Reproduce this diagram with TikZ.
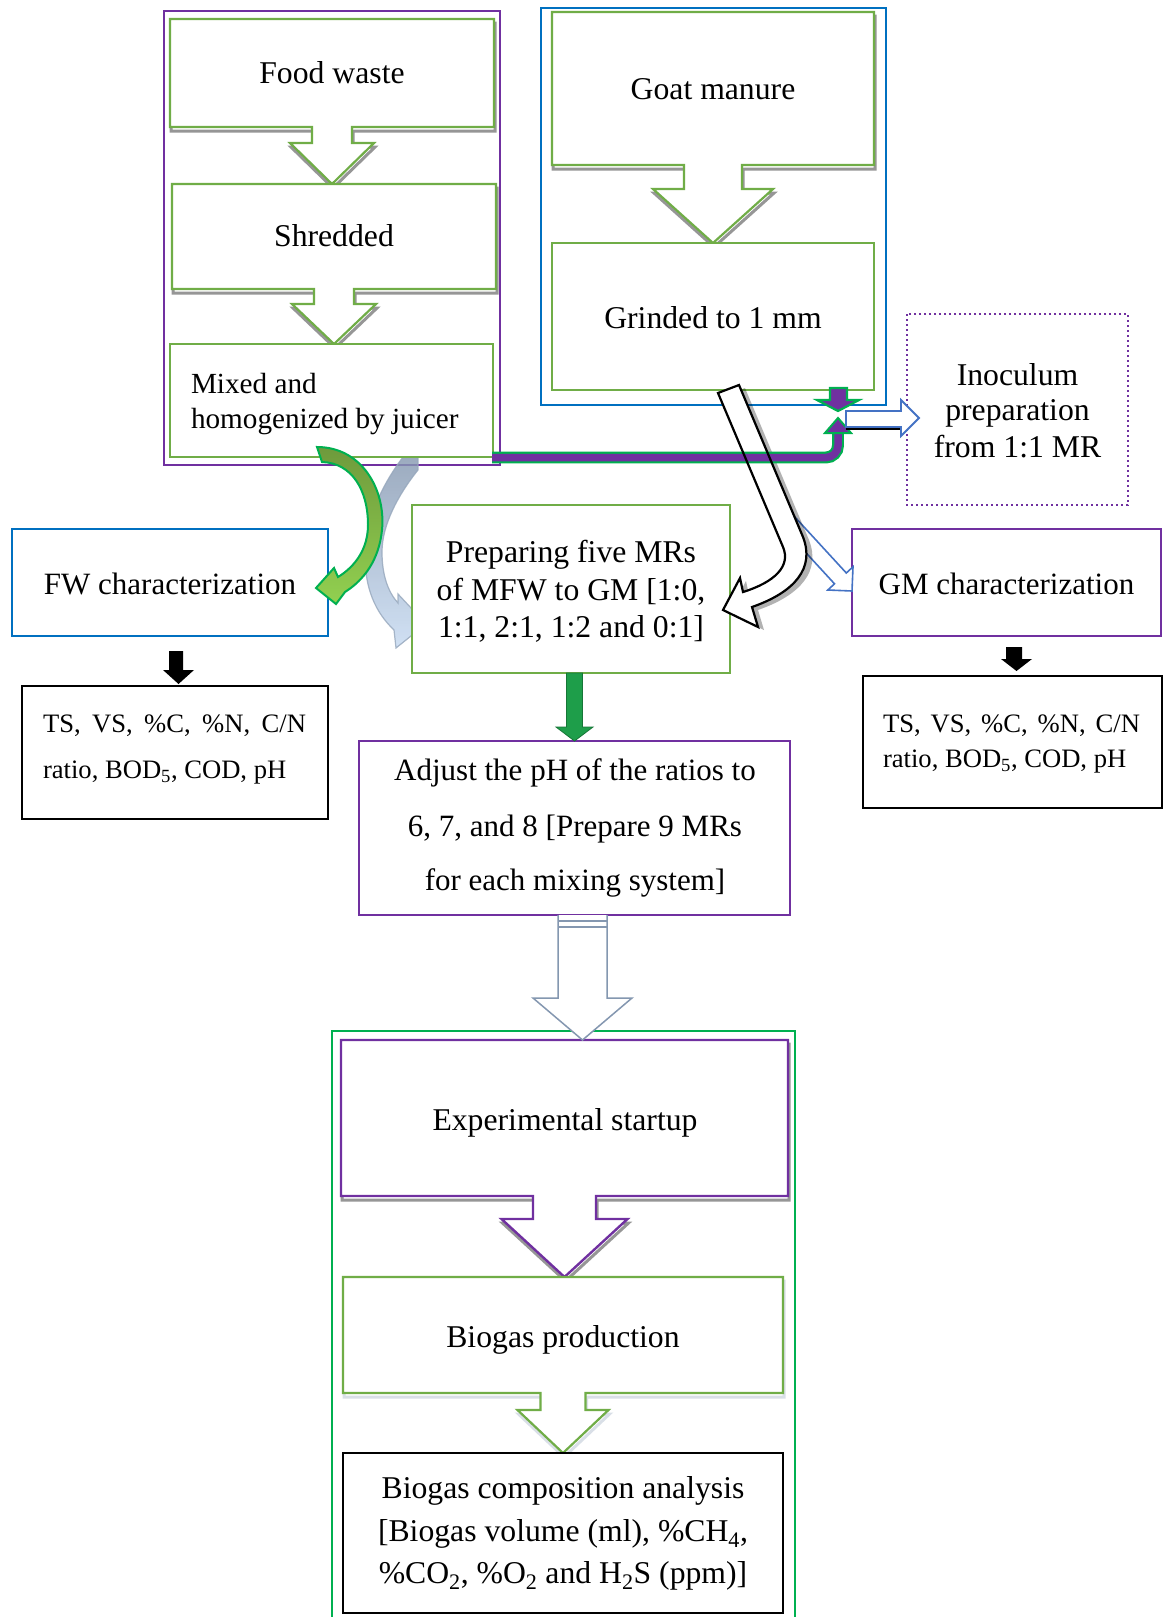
\documentclass[tikz,border=0pt]{standalone}
\usepackage{fontspec}
\setmainfont{Liberation Serif}
\usetikzlibrary{calc}
\definecolor{gbox}{HTML}{70AD47}
\definecolor{pbox}{HTML}{7030A0}
\definecolor{bbox}{HTML}{0070C0}
\definecolor{bgreen}{HTML}{00B050}
\definecolor{ablue}{HTML}{4472C4}
\definecolor{gblue}{HTML}{8497B0}
\definecolor{lblue}{HTML}{C5D9F1}
\definecolor{dolive}{HTML}{6E9A3C}
\definecolor{lgreen}{HTML}{92D050}
\definecolor{dgreen}{HTML}{1E9E4A}

\newcommand\dcallout[6]{%
  \draw[#1] (#2.north west) -- (#2.north east) -- (#2.south east)
    -- ($(#2.south)+(#3,0)$) -- ($(#2.south)+(#3,#5)$) -- ($(#2.south)+(#4,#5)$)
    -- (#6) -- ($(#2.south)+(-#4,#5)$) -- ($(#2.south)+(-#3,#5)$)
    -- ($(#2.south)+(-#3,0)$) -- (#2.south west) -- cycle;}

\begin{document}
\begin{tikzpicture}[x=1pt,y=-1pt,
  every node/.style={inner sep=0pt, outer sep=0pt},
  sz/.style 2 args={minimum width=#1pt, minimum height=#2pt},
  gb/.style={draw=gbox, line width=2.2pt, fill=white},
  pb/.style={draw=pbox, line width=2.4pt, fill=white},
  bb/.style={draw=bbox, line width=2.2pt, fill=white},
  kb/.style={draw=black, line width=2.6pt, fill=white},
  cshadow/.style={draw=black!75, line width=3pt, opacity=0.55},
  lshadow/.style={draw=gblue!60, line width=3pt, opacity=0.5},
  tx/.style={font=\fontsize{31.7}{36}\selectfont, anchor=base},
  txo/.style={font=\fontsize{31}{36}\selectfont, anchor=base},
  txm/.style={font=\fontsize{29.2}{34}\selectfont, anchor=base west},
  txs/.style={font=\fontsize{26.6}{32}\selectfont, anchor=base west},
]
\useasboundingbox[fill=white] (0,0) rectangle (1163,1617);

% group frames
\node[sz={336}{454}, draw=pbox, line width=2.4pt] (fgrp) at (332,238) {};
\node[sz={345}{397}, draw=bbox, line width=2.4pt] (rgrp) at (713.5,206.5) {};
\node[sz={463}{609}, draw=bgreen, line width=2.4pt] (bgrp) at (563.5,1335.5) {};

% box nodes (geometry)
\node[sz={324}{108}] (fw) at (332,73) {};
\node[sz={324}{105}] (sh) at (334,236.5) {};
\node[sz={323}{113}] (mx) at (331.5,400.5) {};
\node[sz={322}{153}] (gm) at (713,88.5) {};
\node[sz={322}{147}] (gr) at (713,316.5) {};
\node[sz={221}{191}] (ino) at (1017.5,409.5) {};
\node[sz={316}{107}] (fwc) at (170,582.5) {};
\node[sz={318}{168}] (prep) at (571,589) {};
\node[sz={309}{107}] (gmc) at (1006.5,582.5) {};
\node[sz={306}{133}] (tsl) at (175,752.5) {};
\node[sz={299}{132}] (tsr) at (1012.5,742) {};
\node[sz={431}{174}] (adj) at (574.5,828) {};
\node[sz={447}{156}] (es) at (564.5,1118) {};
\node[sz={440}{116}] (bp) at (563,1335) {};
\node[sz={440}{160}] (bc) at (563,1533) {};

% faded curved arrow (behind)
\draw[draw=gblue!85, line width=1.2pt, top color=gblue, bottom color=lblue, opacity=0.8]
  (403,457) -- (418,457) -- (418,470)
  .. controls (398,495) and (382,525) .. (382,552)
  .. controls (382,575) and (388,592) .. (398,603)
  -- (398,594) -- (426,624) -- (396,648) -- (394,630)
  .. controls (375,612) and (365,588) .. (365,556)
  .. controls (365,520) and (382,485) .. (403,457) -- cycle;

% callout shadows
\begin{scope}[transform canvas={shift={(1,4)}}]
 \dcallout{cshadow}{fw}{20}{42}{16}{fw.south |- sh.north}
 \dcallout{cshadow}{sh}{20}{42}{15}{sh.south |- mx.north}
 \dcallout{cshadow}{gm}{29}{60}{24}{gm.south |- gr.north}
 \dcallout{cshadow}{es}{31.5}{63}{23}{es.south |- bp.north}
 \dcallout{lshadow}{bp}{22.5}{45.5}{17}{bp.south |- bc.north}
\end{scope}
% callouts
\dcallout{gb}{fw}{20}{42}{16}{fw.south |- sh.north}
\dcallout{gb}{sh}{20}{42}{15}{sh.south |- mx.north}
\dcallout{gb}{gm}{29}{60}{24}{gm.south |- gr.north}
\dcallout{pb}{es}{31.5}{63}{23}{es.south |- bp.north}
\dcallout{gb}{bp}{22.5}{45.5}{17}{bp.south |- bc.north}

% plain boxes
\draw[gb] (mx.north west) rectangle (mx.south east);
\draw[gb] (gr.north west) rectangle (gr.south east);
\draw[draw=pbox, line width=2.2pt, dash pattern=on 2.2pt off 2.8pt, fill=white] (ino.north west) rectangle (ino.south east);
\draw[bb] (fwc.north west) rectangle (fwc.south east);
\draw[gb] (prep.north west) rectangle (prep.south east);
\draw[pb] (gmc.north west) rectangle (gmc.south east);
\draw[kb] (tsl.north west) rectangle (tsl.south east);
\draw[kb] (tsr.north west) rectangle (tsr.south east);
\draw[pb] (adj.north west) rectangle (adj.south east);
\draw[kb] (bc.north west) rectangle (bc.south east);

% green curved arrow
\draw[draw=bgreen, line width=2pt, top color=dolive, bottom color=lgreen]
  (317,447) .. controls (362,447) and (386,490) .. (382,530)
  .. controls (379,560) and (364,580) .. (345,592)
  -- (336,604) -- (316,588) -- (334,568) -- (338,577)
  .. controls (356,566) and (368,548) .. (368,525)
  .. controls (368,490) and (352,463) .. (322,462) -- cycle;

% blue arrow to GM characterization
\draw[draw=ablue, line width=1.6pt, fill=white]
  (785.1,506.4) -- (846.3,573) -- (853,566.8) -- (852,591) -- (827.8,590) -- (834.5,583.8) -- (773.3,517.2) -- cycle;

% white arrow shadow and fill
\begin{scope}[transform canvas={shift={(6,3)}}]
\fill[black, opacity=0.3] (718,393) -- (783,547) .. controls (791,566) and (775,582) .. (743,592) -- (740,578) -- (723,610) -- (758,627) -- (752,607) .. controls (795,592) and (815,568) .. (803,537) -- (739,385) -- cycle;
\end{scope}
\fill[white] (718,393) -- (783,547) .. controls (791,566) and (775,582) .. (743,592) -- (740,578) -- (723,610) -- (758,627) -- (752,607) .. controls (795,592) and (815,568) .. (803,537) -- (739,385) -- cycle;

% purple/green line to inoculum
\coordinate (pl1) at ($(mx.south east)+(-1,0.5)$);
\coordinate (pl2) at (838,433);
\draw[draw=bgreen, line width=2.2pt, double=pbox, double distance=7.5pt, rounded corners=12pt] (pl1) -| (pl2);
\draw[fill=pbox, draw=bgreen, line width=2pt] (825,433) -- (851,433) -- (838,418) -- cycle;
\draw[fill=pbox, draw=bgreen, line width=2.2pt] (830,388) -- (847,388) -- (847,400) -- (859,400) -- (838,411) -- (817,400) -- (830,400) -- cycle;
\draw[black, line width=2pt] (846,429) -- (901,429);
\draw[draw=ablue, line width=1.8pt, fill=white] (846,411) -- (901,411) -- (901,400) -- (919,418) -- (901,436) -- (901,427) -- (846,427) -- cycle;

% white arrow outline
\draw[black, line width=2.2pt] (718,393) -- (783,547) .. controls (791,566) and (775,582) .. (743,592) -- (740,578) -- (723,610) -- (758,627) -- (752,607) .. controls (795,592) and (815,568) .. (803,537) -- (739,385) -- cycle;

% green straight arrow
\coordinate (ga1) at (prep.south -| adj.north);
\coordinate (ga2) at (adj.north);
\draw[fill=dgreen, draw=dgreen!75!black, line width=0.8pt] ($(ga1)+(-8,0)$) -- ($(ga1)+(8,0)$) -- ($(ga2)+(8,-14)$) -- ($(ga2)+(18.5,-14)$) -- (ga2) -- ($(ga2)+(-18.5,-14)$) -- ($(ga2)+(-8,-14)$) -- cycle;

% open grey arrow
\coordinate (oa1) at (adj.south -| 582.5,0);
\coordinate (oa2) at (es.north -| 582.5,0);
\draw[draw=gblue, line width=1.5pt, fill=white] ($(oa1)+(-24.5,0)$) -- ($(oa2)+(-24.5,-42)$) -- ($(oa2)+(-49.5,-42)$) -- (oa2) -- ($(oa2)+(49.5,-42)$) -- ($(oa2)+(24.5,-42)$) -- ($(oa1)+(24.5,0)$);
\draw[gblue, line width=1.5pt] ($(oa1)+(-24.5,6)$) -- ($(oa1)+(24.5,6)$) ($(oa1)+(-24.5,12)$) -- ($(oa1)+(24.5,12)$);

% black small arrows
\coordinate (ka1) at (fwc.south -| 178.5,0);
\coordinate (ka2) at (gmc.south -| 1016.5,0);
\fill[black] ($(ka1)+(-9.5,15)$) -- ($(ka1)+(4.5,15)$) -- ($(ka1)+(4.5,34)$) -- ($(ka1)+(15.5,34)$) -- ($(ka1)+(0,48)$) -- ($(ka1)+(-15.5,34)$) -- ($(ka1)+(-9.5,34)$) -- cycle;
\fill[black] ($(ka2)+(-10.5,11)$) -- ($(ka2)+(5.5,11)$) -- ($(ka2)+(5.5,23)$) -- ($(ka2)+(15.5,23)$) -- ($(ka2)+(0,35)$) -- ($(ka2)+(-15.5,23)$) -- ($(ka2)+(-10.5,23)$) -- cycle;

% texts
\node[tx] (tfw) at (332,83.3) {Food waste};
\node[tx] (tsh) at (334,246.7) {Shredded};
\node[txm] (tmx1) at (191,393.3) {Mixed and};
\node[txm] (tmx2) at (191,428.3) {homogenized by juicer};
\node[tx] (tgm) at (713,99.3) {Goat manure};
\node[tx] (tgr) at (713,328.3) {Grinded to 1 mm};
\node[tx] (tin1) at (1017.5,385) {Inoculum};
\node[tx] (tin2) at (1017.5,420.7) {preparation};
\node[tx] (tin3) at (1017.5,457.3) {from 1:1 MR};
\node[txo] (tfwc) at (170,594) {FW characterization};
\node[txo] (tgmc) at (1006.5,594) {GM characterization};
\node[tx] (tpr1) at (571,562.7) {Preparing five MRs};
\node[tx] (tpr2) at (571,600) {of MFW to GM [1:0,};
\node[tx] (tpr3) at (571,637.3) {1:1, 2:1, 1:2 and 0:1]};
\node[txs] (tsl1) at (43,732) {\makebox[263pt][s]{TS, VS, \%C, \%N, C/N}};
\node[txs] (tsl2) at (43,778.3) {ratio, BOD\textsubscript{5}, COD, pH};
\node[txs] (tsr1) at (883,732.3) {\makebox[257pt][s]{TS, VS, \%C, \%N, C/N}};
\node[txs] (tsr2) at (883,767.3) {ratio, BOD\textsubscript{5}, COD, pH};
\node[txo] (tad1) at (575,780.7) {Adjust the pH of the ratios to};
\node[txo] (tad2) at (575,836) {6, 7, and 8 [Prepare 9 MRs};
\node[txo] (tad3) at (575,890.7) {for each mixing system]};
\node[tx] (tes) at (565,1130.5) {Experimental startup};
\node[tx] (tbp) at (563,1347.6) {Biogas production};
\node[tx] (tbc1) at (563,1498) {Biogas composition analysis};
\node[tx] (tbc2) at (563,1541) {[Biogas volume (ml), \%CH\textsubscript{4},};
\node[tx] (tbc3) at (563,1583) {\%CO\textsubscript{2}, \%O\textsubscript{2} and H\textsubscript{2}S (ppm)]};
\end{tikzpicture}
\end{document}
